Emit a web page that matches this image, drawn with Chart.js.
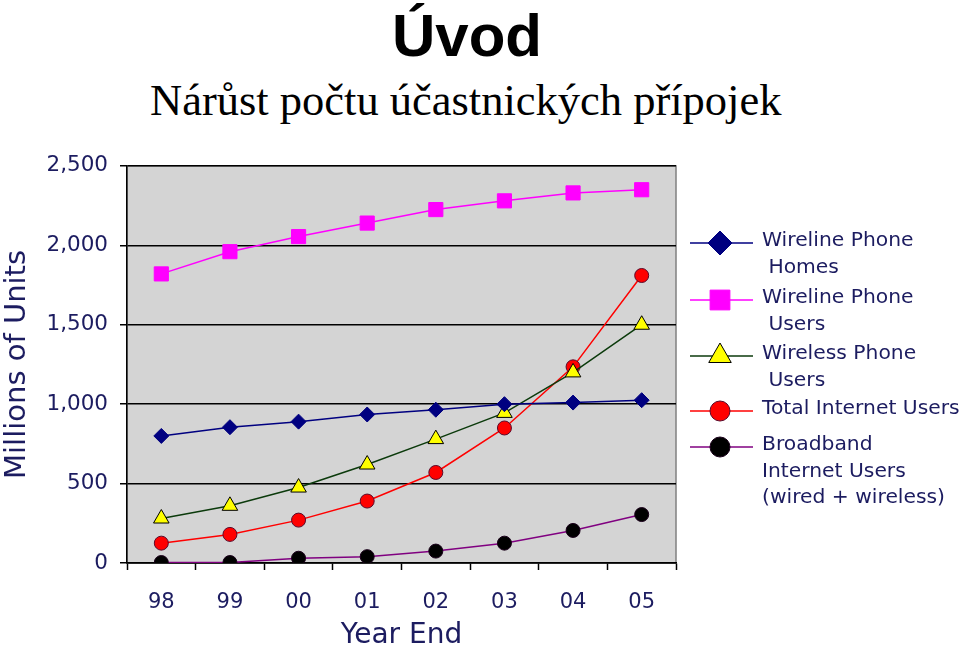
<!DOCTYPE html>
<html>
<head>
<meta charset="utf-8">
<script src="https://cdn.jsdelivr.net/npm/chart.js@4/dist/chart.umd.min.js"></script>
<style>
    body { margin: 0; background: #ffffff; width: 960px; height: 653px; overflow: hidden; position: relative; }
    #title { position: absolute; left: 0; width: 934px; top: 6px; text-align: center;
             font: bold 60px "Liberation Sans", Arial, sans-serif; line-height: 60px; color: #000; }
    #subtitle { position: absolute; left: 150px; top: 78px; font: 44.5px "Liberation Serif", "Times New Roman", serif;
                line-height: 45px; color: #000; white-space: nowrap; }
    #wrap { position: absolute; left: 0; top: 141px; width: 960px; height: 512px; }
</style>
</head>
<body>
<div id="title">Úvod</div>
<div id="subtitle">Nárůst počtu účastnických přípojek</div>
<div id="wrap"><canvas id="chart"></canvas></div>
<script>
// roky (konec roku)
const years = ['98', '99', '00', '01', '02', '03', '04', '05'];

// hodnoty v milionech
const wirelineHomes = [800, 855, 890, 935, 965, 1000, 1010, 1025];
const wirelineUsers = [1820, 1960, 2055, 2140, 2225, 2280, 2330, 2350];
const wirelessUsers = [280, 360, 475, 620, 780, 945, 1200, 1500];
const internetUsers = [125, 180, 270, 390, 570, 850, 1235, 1810];
const broadbandUsers = [3, 3, 30, 40, 75, 125, 205, 305];

const yTicks = [0, 500, 1000, 1500, 2000, 2500];
const textColor = '#1c1c60';
const fontFamily = '"DejaVu Sans", Verdana, sans-serif';

// popisky legendy (víceřádkové)
const legendLines = [
    ['Wireline Phone', ' Homes'],
    ['Wireline Phone', ' Users'],
    ['Wireless Phone', ' Users'],
    ['Total Internet Users'],
    ['Broadband', 'Internet Users', '(wired + wireless)']
];

const datasets = [
    {
        label: 'Wireline Phone Homes',
        data: wirelineHomes,
        borderColor: '#000080',
        backgroundColor: '#000080',
        pointStyle: 'rectRot',
        pointRadius: 7.5,
        legendRadius: 12
    },
    {
        label: 'Wireline Phone Users',
        data: wirelineUsers,
        borderColor: '#ff00ff',
        backgroundColor: '#ff00ff',
        pointStyle: 'rect',
        pointRadius: 10,
        legendRadius: 14
    },
    {
        label: 'Wireless Phone Users',
        data: wirelessUsers,
        borderColor: '#0b3a0b',
        backgroundColor: '#ffff00',
        pointBorderColor: '#000000',
        pointStyle: 'triangle',
        pointRadius: 9,
        legendRadius: 13
    },
    {
        label: 'Total Internet Users',
        data: internetUsers,
        borderColor: '#ff0000',
        backgroundColor: '#ff0000',
        pointBorderColor: '#5a0a2a',
        pointStyle: 'circle',
        pointRadius: 7,
        legendRadius: 10
    },
    {
        label: 'Broadband Internet Users (wired + wireless)',
        data: broadbandUsers,
        borderColor: '#800080',
        backgroundColor: '#000000',
        pointBorderColor: '#1a001a',
        pointStyle: 'circle',
        pointRadius: 7,
        legendRadius: 10
    }
];

datasets.forEach(ds => {
    ds.borderWidth = 1.5;
    ds.pointBorderWidth = 1;
    ds.pointBackgroundColor = ds.backgroundColor;
    if (!ds.pointBorderColor) ds.pointBorderColor = ds.borderColor;
    ds.tension = 0;
});

// šedé pozadí grafu a rámeček
const plotBackground = {
    id: 'plotBackground',
    beforeDraw(chart) {
        const { ctx, chartArea: a } = chart;
        ctx.save();
        ctx.fillStyle = '#d4d4d4';
        ctx.fillRect(a.left, a.top, a.right - a.left, a.bottom - a.top);
        ctx.strokeStyle = '#808080';
        ctx.lineWidth = 1.5;
        ctx.strokeRect(a.left, a.top, a.right - a.left, a.bottom - a.top);
        ctx.restore();
    }
};

// vlastní legenda vpravo
const sideLegend = {
    id: 'sideLegend',
    afterDraw(chart) {
        const ctx = chart.ctx;
        const rowTops = [100, 157, 213, 268, 304];
        const lineH = 26.5;
        ctx.save();
        ctx.font = '20.3px ' + fontFamily;
        ctx.fillStyle = textColor;
        ctx.textBaseline = 'middle';
        ctx.textAlign = 'left';
        chart.data.datasets.forEach((ds, i) => {
            const y = rowTops[i];
            ctx.strokeStyle = ds.borderColor;
            ctx.lineWidth = 1.5;
            ctx.beginPath();
            ctx.moveTo(690, y + 2);
            ctx.lineTo(753, y + 2);
            ctx.stroke();
            ctx.fillStyle = ds.pointBackgroundColor;
            ctx.strokeStyle = ds.pointBorderColor;
            ctx.lineWidth = 1;
            Chart.helpers.drawPoint(ctx, {
                pointStyle: ds.pointStyle,
                radius: ds.legendRadius,
                rotation: 0,
                borderWidth: 1
            }, 720, y + 2);
            ctx.fillStyle = textColor;
            legendLines[i].forEach((t, k) => {
                ctx.fillText(t, 762, y + k * lineH);
            });
        });
        ctx.restore();
    }
};

new Chart(document.getElementById('chart'), {
    type: 'line',
    data: { labels: years, datasets: datasets },
    plugins: [plotBackground, sideLegend],
    options: {
        responsive: true,
        maintainAspectRatio: false,
        animation: false,
        layout: { padding: { top: 6, right: 284, left: 0, bottom: 0 } },
        plugins: {
            legend: { display: false },
            tooltip: { enabled: false }
        },
        scales: {
            x: {
                offset: true,
                afterFit: scale => { scale.height = 90; },
                grid: {
                    offset: true,
                    drawOnChartArea: false,
                    color: '#000000',
                    tickLength: 7,
                    tickWidth: 1.5
                },
                border: { color: '#000000', width: 1.5 },
                ticks: {
                    color: textColor,
                    padding: 20,
                    font: { family: fontFamily, size: 21 }
                },
                title: {
                    display: true,
                    text: 'Year End',
                    color: textColor,
                    padding: { top: 2, bottom: 0 },
                    font: { family: fontFamily, size: 28 }
                }
            },
            y: {
                min: 0,
                max: 2500,
                afterFit: scale => { scale.width = 127; },
                afterBuildTicks: scale => { scale.ticks = yTicks.map(v => ({ value: v })); },
                grid: {
                    color: '#000000',
                    lineWidth: 1.5,
                    tickLength: 7,
                    tickColor: '#000000'
                },
                border: { color: '#000000', width: 1.5 },
                ticks: {
                    color: textColor,
                    padding: 12,
                    font: { family: fontFamily, size: 21.5 },
                    callback: v => v.toLocaleString('en-US')
                },
                title: {
                    display: true,
                    text: 'Millions of Units',
                    color: textColor,
                    padding: { top: 0, bottom: 4 },
                    font: { family: fontFamily, size: 29 }
                }
            }
        }
    }
});
</script>
</body>
</html>
